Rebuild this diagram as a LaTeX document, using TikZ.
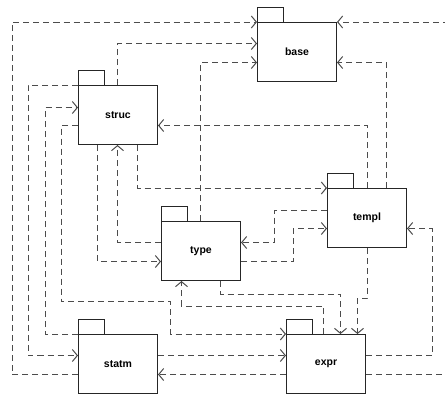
\documentclass[tikz,border=0pt]{standalone}
\usepackage{fontspec}
\setmainfont{Liberation Sans}
\usetikzlibrary{arrows.meta}
\begin{document}
\begin{tikzpicture}[x=1pt,y=-1pt,
  pkg/.style={draw=black!85, line width=1pt, fill=white, minimum width=79pt, minimum height=59pt, inner sep=0pt, font=\fontsize{10.5}{12}\selectfont\bfseries},
  tab/.style={draw=black!85, line width=1pt},
  dep/.style={draw=black!70, line width=1pt, dash pattern=on 6pt off 4pt, -{Straight Barb[length=5pt,width=12pt]}}]
\useasboundingbox (0,0) rectangle (445,394);
\node[pkg] (base)  at (297,52)  {base};
\node[pkg] (struc) at (118,115) {struc};
\node[pkg] (templ) at (367,218) {templ};
\node[pkg] (type)  at (201,251) {type};
\node[pkg] (statm) at (118,364) {statm};
\node[pkg] (expr)  at (326,364) {expr};
\foreach \n in {base,struc,templ,type,statm,expr}
  \draw[tab] (\n.north west) rectangle ++(26,-15);
% outer loops
\draw[dep] ([yshift=-10.5pt]statm.west) -- ++(-66,0) |- (base.north west);
\draw[dep] ([yshift=-10.5pt]expr.east) -- ++(90,0) |- (base.north east);
% to base
\draw[dep] ([xshift=-0.5pt]struc.north) |- ([yshift=8.5pt]base.west);
\draw[dep] ([xshift=-0.5pt]type.north) |- ([yshift=-10.5pt]base.west);
\draw[dep] ([xshift=19.5pt]templ.north) |- ([yshift=-10.5pt]base.east);
% struc <-> templ
\draw[dep] ([xshift=0.5pt]templ.north) |- ([yshift=-10.5pt]struc.east);
\draw[dep] ([xshift=19.5pt]struc.south) |- (templ.north west);
% left side
\draw[dep] (struc.north west) -- ++(-50,0) |- ([yshift=8.5pt]statm.west);
\draw[dep] (statm.north west) -- ++(-33,0) |- ([yshift=7.5pt]struc.west);
\draw[dep] ([yshift=-10.5pt]struc.west) -- ++(-17,0) |- (170.5,301.5) |- (expr.north west);
% struc <-> type
\draw[dep] ([xshift=-20.5pt]struc.south) |- ([yshift=-10.5pt]type.west);
\draw[dep] ([yshift=8.5pt]type.west) -| ([xshift=-0.5pt]struc.south);
% templ <-> type
\draw[dep] ([yshift=7.5pt]templ.west) -- ++(-53,0) |- ([yshift=8.5pt]type.east);
\draw[dep] ([yshift=-10.5pt]type.east) -- ++(52,0) |- ([yshift=-10.5pt]templ.west);
% type <-> expr
\draw[dep] ([xshift=19.5pt]type.south) -- ++(0,13) -| ([xshift=14.5pt]expr.north);
\draw[dep] ([xshift=-2.5pt]expr.north) -- ++(0,-28) -| ([xshift=-19.5pt]type.south);
% templ <-> expr
\draw[dep] ([xshift=0.5pt]templ.south) -- ++(0,50) -| ([xshift=31.5pt]expr.north);
\draw[dep] ([yshift=8.5pt]expr.east) -- ++(66,0) |- ([yshift=-10.5pt]templ.east);
% statm <-> expr
\draw[dep] ([yshift=8.5pt]statm.east) -- ([yshift=8.5pt]expr.west);
\draw[dep] ([yshift=-10.5pt]expr.west) -- ([yshift=-10.5pt]statm.east);
\end{tikzpicture}
\end{document}
